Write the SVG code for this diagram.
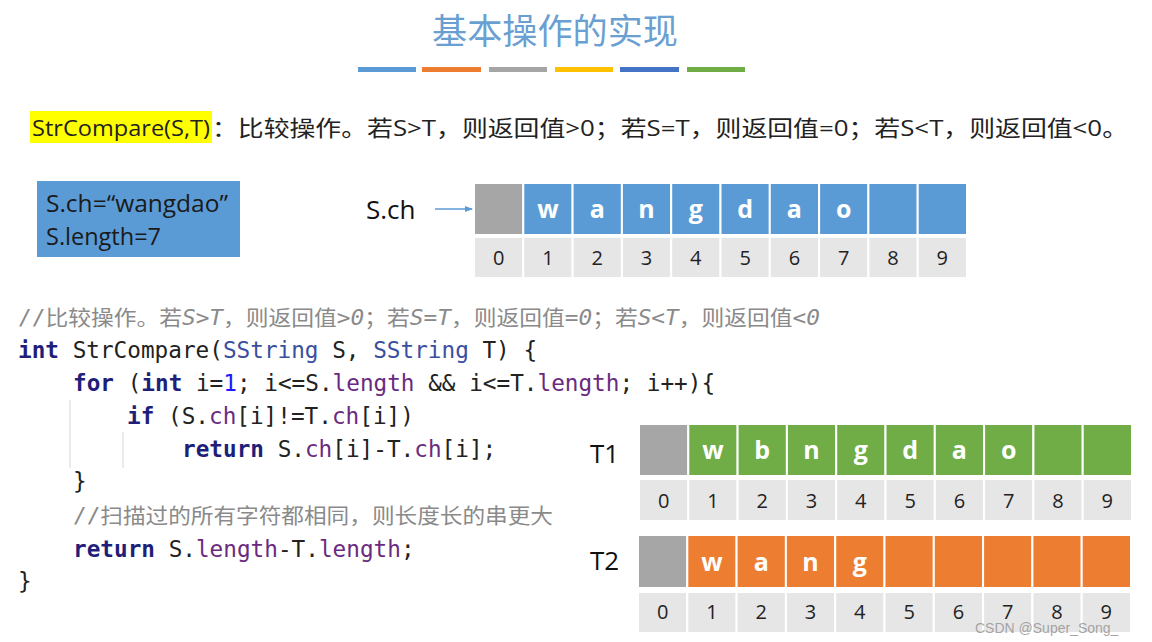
<svg xmlns="http://www.w3.org/2000/svg" width="1152" height="642" viewBox="0 0 1152 642">
<style>
.title{font-family:"Liberation Sans","Noto Sans CJK SC",sans-serif;font-size:35px;fill:#6a9fd2}
.txt{font-family:"Open Sans","Noto Sans CJK SC",sans-serif;font-size:22px;fill:#222}
.info{font-family:"Open Sans","Noto Sans CJK SC",sans-serif;font-size:23.5px;fill:#1a1a1a}
.lbl{font-family:"Open Sans","Noto Sans CJK SC",sans-serif;font-size:26px;fill:#111}
.code{font-family:"DejaVu Sans Mono","Noto Sans CJK SC",monospace;font-size:22.7px;fill:#222}
.cmt{font-family:"DejaVu Sans Mono","Noto Sans CJK SC",monospace;font-size:21px;fill:#8a8a8a}
.kw{fill:#1f1f7a;font-weight:bold}
.ty{fill:#3a4fa0}
.fd{fill:#6a2a80}
.num{fill:#1a1aff}
.it{font-style:italic}
.ch{font-family:"Open Sans",sans-serif;font-size:25px;font-weight:bold;fill:#fff;text-anchor:middle}
.ix{font-family:"Open Sans",sans-serif;font-size:20px;fill:#222;text-anchor:middle}
.g{fill:#a6a6a6;stroke:#fff;stroke-width:2}
.b{fill:#5b9bd5;stroke:#fff;stroke-width:2}
.gr{fill:#70ad47;stroke:#fff;stroke-width:2}
.o{fill:#ed7d31;stroke:#fff;stroke-width:2}
.i{fill:#e7e6e6;stroke:#fff;stroke-width:2}
</style>
<defs>
<marker id="ah" markerWidth="8" markerHeight="8" refX="7" refY="4" orient="auto" markerUnits="userSpaceOnUse">
<path d="M0,1 L8,4 L0,7 Z" fill="#5b9bd5"/>
</marker>
</defs>
<rect width="1152" height="642" fill="#fff"/>
<g id="title">
<text class="title" x="555" y="44" text-anchor="middle" textLength="246" lengthAdjust="spacingAndGlyphs">基本操作的实现</text>
<rect x="358" y="67" width="58" height="5" fill="#5b9bd5"/>
<rect x="422" y="67" width="59" height="5" fill="#ed7d31"/>
<rect x="489" y="67" width="58" height="5" fill="#a5a5a5"/>
<rect x="555" y="67" width="58" height="5" fill="#ffc000"/>
<rect x="620" y="67" width="59" height="5" fill="#4472c4"/>
<rect x="687" y="67" width="58" height="5" fill="#70ad47"/>
</g>
<g id="desc">
<rect x="30" y="111" width="182" height="32" fill="#ffff00"/>
<text class="txt" x="32" y="136" textLength="178" lengthAdjust="spacingAndGlyphs">StrCompare(S,T)</text>
<text class="txt" x="212" y="136" textLength="916" lengthAdjust="spacingAndGlyphs">：比较操作。若S&gt;T，则返回值&gt;0；若S=T，则返回值=0；若S&lt;T，则返回值&lt;0。</text>
</g>
<g id="sinfo">
<rect x="37" y="181" width="203" height="76" fill="#5b9bd5"/>
<text class="info" x="46" y="212" textLength="182" lengthAdjust="spacingAndGlyphs">S.ch=“wangdao”</text>
<text class="info" x="46" y="245">S.length=7</text>
</g>
<g id="connectors">
<line x1="435" y1="209" x2="472" y2="209" stroke="#5b9bd5" stroke-width="1.5" marker-end="url(#ah)"/>
</g>
<g id="S">
<text class="lbl" x="366" y="219">S.ch</text>
<rect class="g" x="474" y="183" width="49.3" height="52"/>
<rect class="b" x="523.3" y="183" width="49.3" height="52"/>
<rect class="b" x="572.6" y="183" width="49.3" height="52"/>
<rect class="b" x="621.9" y="183" width="49.3" height="52"/>
<rect class="b" x="671.2" y="183" width="49.3" height="52"/>
<rect class="b" x="720.5" y="183" width="49.3" height="52"/>
<rect class="b" x="769.8" y="183" width="49.3" height="52"/>
<rect class="b" x="819.1" y="183" width="49.3" height="52"/>
<rect class="b" x="868.4" y="183" width="49.3" height="52"/>
<rect class="b" x="917.7" y="183" width="49.3" height="52"/>
<text class="ch" x="548" y="218">w</text>
<text class="ch" x="597.2" y="218">a</text>
<text class="ch" x="646.5" y="218">n</text>
<text class="ch" x="695.8" y="218">g</text>
<text class="ch" x="745.1" y="218">d</text>
<text class="ch" x="794.4" y="218">a</text>
<text class="ch" x="843.7" y="218">o</text>
<rect class="i" x="474" y="237" width="49.3" height="41"/>
<rect class="i" x="523.3" y="237" width="49.3" height="41"/>
<rect class="i" x="572.6" y="237" width="49.3" height="41"/>
<rect class="i" x="621.9" y="237" width="49.3" height="41"/>
<rect class="i" x="671.2" y="237" width="49.3" height="41"/>
<rect class="i" x="720.5" y="237" width="49.3" height="41"/>
<rect class="i" x="769.8" y="237" width="49.3" height="41"/>
<rect class="i" x="819.1" y="237" width="49.3" height="41"/>
<rect class="i" x="868.4" y="237" width="49.3" height="41"/>
<rect class="i" x="917.7" y="237" width="49.3" height="41"/>
<text class="ix" x="498.6" y="265">0</text>
<text class="ix" x="548" y="265">1</text>
<text class="ix" x="597.2" y="265">2</text>
<text class="ix" x="646.5" y="265">3</text>
<text class="ix" x="695.8" y="265">4</text>
<text class="ix" x="745.1" y="265">5</text>
<text class="ix" x="794.4" y="265">6</text>
<text class="ix" x="843.7" y="265">7</text>
<text class="ix" x="893" y="265">8</text>
<text class="ix" x="942.3" y="265">9</text>
</g>
<g id="code">
<line x1="70" y1="400" x2="70" y2="468" stroke="#e4e4e4" stroke-width="1.5"/>
<line x1="123" y1="432" x2="123" y2="468" stroke="#e4e4e4" stroke-width="1.5"/>
<text class="cmt" x="18" y="325" textLength="802" lengthAdjust="spacingAndGlyphs">//比较操作。若<tspan class="it">S&gt;T</tspan>，则返回值&gt;<tspan class="it">0</tspan>；若<tspan class="it">S=T</tspan>，则返回值=<tspan class="it">0</tspan>；若<tspan class="it">S&lt;T</tspan>，则返回值&lt;<tspan class="it">0</tspan></text>
<text class="code" x="18" y="358"><tspan class="kw">int</tspan> StrCompare(<tspan class="ty">SString</tspan> S, <tspan class="ty">SString</tspan> T) {</text>
<text class="code" x="73" y="391"><tspan class="kw">for</tspan> (<tspan class="kw">int</tspan> i=<tspan class="num">1</tspan>; i&lt;=S.<tspan class="fd">length</tspan> &amp;&amp; i&lt;=T.<tspan class="fd">length</tspan>; i++){</text>
<text class="code" x="127" y="424"><tspan class="kw">if</tspan> (S.<tspan class="fd">ch</tspan>[i]!=T.<tspan class="fd">ch</tspan>[i])</text>
<text class="code" x="182" y="457"><tspan class="kw">return</tspan> S.<tspan class="fd">ch</tspan>[i]-T.<tspan class="fd">ch</tspan>[i];</text>
<text class="code" x="73" y="489">}</text>
<text class="cmt" x="73" y="523" textLength="480" lengthAdjust="spacingAndGlyphs">//扫描过的所有字符都相同，则长度长的串更大</text>
<text class="code" x="73" y="557"><tspan class="kw">return</tspan> S.<tspan class="fd">length</tspan>-T.<tspan class="fd">length</tspan>;</text>
<text class="code" x="18" y="589">}</text>
</g>
<g id="T1">
<text class="lbl" x="590" y="463" font-size="28">T1</text>
<rect class="g" x="639" y="424" width="49.3" height="52"/>
<rect class="gr" x="688.3" y="424" width="49.3" height="52"/>
<rect class="gr" x="737.6" y="424" width="49.3" height="52"/>
<rect class="gr" x="786.9" y="424" width="49.3" height="52"/>
<rect class="gr" x="836.2" y="424" width="49.3" height="52"/>
<rect class="gr" x="885.5" y="424" width="49.3" height="52"/>
<rect class="gr" x="934.8" y="424" width="49.3" height="52"/>
<rect class="gr" x="984.1" y="424" width="49.3" height="52"/>
<rect class="gr" x="1033.4" y="424" width="49.3" height="52"/>
<rect class="gr" x="1082.7" y="424" width="49.3" height="52"/>
<text class="ch" x="713" y="459">w</text>
<text class="ch" x="762.2" y="459">b</text>
<text class="ch" x="811.5" y="459">n</text>
<text class="ch" x="860.8" y="459">g</text>
<text class="ch" x="910.1" y="459">d</text>
<text class="ch" x="959.4" y="459">a</text>
<text class="ch" x="1008.7" y="459">o</text>
<rect class="i" x="639" y="479" width="49.3" height="42"/>
<rect class="i" x="688.3" y="479" width="49.3" height="42"/>
<rect class="i" x="737.6" y="479" width="49.3" height="42"/>
<rect class="i" x="786.9" y="479" width="49.3" height="42"/>
<rect class="i" x="836.2" y="479" width="49.3" height="42"/>
<rect class="i" x="885.5" y="479" width="49.3" height="42"/>
<rect class="i" x="934.8" y="479" width="49.3" height="42"/>
<rect class="i" x="984.1" y="479" width="49.3" height="42"/>
<rect class="i" x="1033.4" y="479" width="49.3" height="42"/>
<rect class="i" x="1082.7" y="479" width="49.3" height="42"/>
<text class="ix" x="663.6" y="508">0</text>
<text class="ix" x="713" y="508">1</text>
<text class="ix" x="762.2" y="508">2</text>
<text class="ix" x="811.5" y="508">3</text>
<text class="ix" x="860.8" y="508">4</text>
<text class="ix" x="910.1" y="508">5</text>
<text class="ix" x="959.4" y="508">6</text>
<text class="ix" x="1008.7" y="508">7</text>
<text class="ix" x="1058" y="508">8</text>
<text class="ix" x="1107.3" y="508">9</text>
</g>
<g id="T2">
<text class="lbl" x="590" y="570" font-size="28">T2</text>
<rect class="g" x="638" y="535" width="49.3" height="53"/>
<rect class="o" x="687.3" y="535" width="49.3" height="53"/>
<rect class="o" x="736.6" y="535" width="49.3" height="53"/>
<rect class="o" x="785.9" y="535" width="49.3" height="53"/>
<rect class="o" x="835.2" y="535" width="49.3" height="53"/>
<rect class="o" x="884.5" y="535" width="49.3" height="53"/>
<rect class="o" x="933.8" y="535" width="49.3" height="53"/>
<rect class="o" x="983.1" y="535" width="49.3" height="53"/>
<rect class="o" x="1032.4" y="535" width="49.3" height="53"/>
<rect class="o" x="1081.7" y="535" width="49.3" height="53"/>
<text class="ch" x="712" y="571">w</text>
<text class="ch" x="761.2" y="571">a</text>
<text class="ch" x="810.5" y="571">n</text>
<text class="ch" x="859.8" y="571">g</text>
<rect class="i" x="638" y="592" width="49.3" height="41"/>
<rect class="i" x="687.3" y="592" width="49.3" height="41"/>
<rect class="i" x="736.6" y="592" width="49.3" height="41"/>
<rect class="i" x="785.9" y="592" width="49.3" height="41"/>
<rect class="i" x="835.2" y="592" width="49.3" height="41"/>
<rect class="i" x="884.5" y="592" width="49.3" height="41"/>
<rect class="i" x="933.8" y="592" width="49.3" height="41"/>
<rect class="i" x="983.1" y="592" width="49.3" height="41"/>
<rect class="i" x="1032.4" y="592" width="49.3" height="41"/>
<rect class="i" x="1081.7" y="592" width="49.3" height="41"/>
<text class="ix" x="662.6" y="619">0</text>
<text class="ix" x="712" y="619">1</text>
<text class="ix" x="761.2" y="619">2</text>
<text class="ix" x="810.5" y="619">3</text>
<text class="ix" x="859.8" y="619">4</text>
<text class="ix" x="909.1" y="619">5</text>
<text class="ix" x="958.4" y="619">6</text>
<text class="ix" x="1007.7" y="619">7</text>
<text class="ix" x="1057" y="619">8</text>
<text class="ix" x="1106.3" y="619">9</text>
</g>
<text x="975" y="633" font-family="Liberation Sans,sans-serif" font-size="14" fill="#9a9a9a" fill-opacity="0.9">CSDN @Super_Song_</text>
</svg>
